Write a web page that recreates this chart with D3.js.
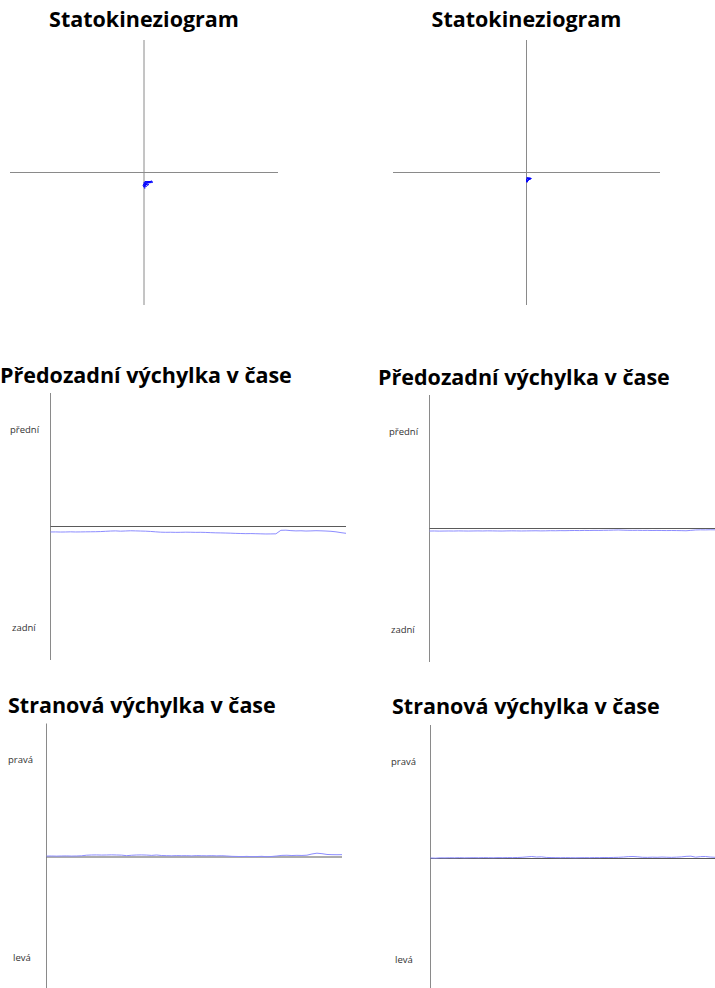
<!DOCTYPE html>
<html lang="cs">
<head>
<meta charset="utf-8">
<title>Stabilometrie</title>
<script src="https://cdn.jsdelivr.net/npm/d3@7"></script>
<style>
  html, body { margin: 0; padding: 0; background: #fff; }
  svg { display: block; }
  .title { font-family: "Open Sans", "Noto Sans", sans-serif; font-weight: 700; fill: #000; }
  .lab { font-family: "Open Sans", "Noto Sans", sans-serif; font-size: 9.5px; fill: #333; }
</style>
</head>
<body>
<svg id="chart" width="715" height="988"></svg>
<script>
// Statokineziogram – COP trajectory (x = stranová, y = předozadní), levá a pravá měření
const copLeftX  = [0.00,0.30,0.90,1.79,2.39,1.49,0.60,0.00,-0.30,0.00,0.30,0.15,0.60,1.19,1.49,0.90,0.30,0.00,-0.15,0.30,1.19,2.09,1.79,0.90,0.30,0.00,0.30,0.60,0.00,0.30,1.49,2.69,2.39,1.19,0.45,0.15,0.60,1.05,0.30,0.00];
const copLeftY  = [-3.63,-2.72,-2.87,-2.72,-2.57,-3.02,-3.17,-3.32,-3.93,-4.53,-4.83,-3.93,-3.63,-3.78,-3.63,-3.47,-3.78,-4.23,-3.63,-3.02,-2.72,-2.87,-3.02,-3.02,-3.32,-3.93,-4.23,-3.63,-3.02,-2.72,-2.72,-2.87,-3.02,-3.17,-3.47,-4.08,-4.38,-3.78,-3.32,-3.63];
const copRightX = [0.00,1.20,1.50,0.90,0.30,0.15,0.00,0.15,0.90,1.35,0.60,0.15,0.00,0.30,1.05,0.75,0.30,0.09,0.24,0.60,1.20,0.45,0.06,0.18,0.45,0.90,0.15];
const copRightY = [-1.51,-1.66,-1.81,-2.11,-2.57,-3.02,-2.42,-1.81,-1.81,-1.87,-2.27,-2.72,-2.11,-1.66,-1.75,-2.05,-2.27,-2.87,-2.42,-1.96,-1.81,-1.81,-1.96,-2.66,-2.36,-1.96,-1.60];

// Předozadní výchylka v čase
const apLeft = [
  -0.82,-0.81,-0.83,-0.82,-0.80,-0.82,-0.81,-0.80,-0.79,-0.78,-0.76,-0.72,
  -0.68,-0.66,-0.70,-0.67,-0.64,-0.66,-0.68,-0.70,-0.74,
  -0.80,-0.85,-0.87,-0.86,-0.88,-0.87,-0.85,-0.86,-0.88,-0.87,-0.89,
  -0.92,-0.95,-0.96,-0.98,-1.00,-1.03,
  -1.05,-1.07,-1.06,-1.08,-1.10,-1.12,-1.11,-1.10,
  -0.57,
  -0.55,-0.62,-0.66,-0.64,-0.68,-0.66,-0.63,-0.65,-0.68,-0.72,
  -0.80,-0.92,-1.02];
const apRight = [
  -0.38,-0.37,-0.39,-0.38,-0.37,-0.38,-0.36,-0.37,-0.38,-0.37,
  -0.36,-0.37,-0.35,-0.36,-0.37,-0.38,-0.36,-0.35,-0.36,-0.37,
  -0.36,-0.35,-0.34,-0.36,-0.35,-0.33,-0.34,-0.32,-0.33,-0.31,
  -0.30,-0.31,-0.29,-0.30,-0.28,-0.29,-0.27,-0.26,-0.24,-0.22,
  -0.25,-0.27,-0.28,-0.27,-0.29,-0.28,-0.30,-0.29,-0.30,-0.31,
  -0.30,-0.31,-0.32,-0.34,-0.28,-0.22,-0.20,-0.21,-0.19,-0.20];

// Stranová výchylka v čase
const mlLeft = [
  0.14,0.15,0.13,0.15,0.16,0.14,0.15,0.18,
  0.27,0.30,0.31,0.29,0.30,0.32,0.30,0.28,
  0.20,
  0.26,0.30,0.31,0.29,0.24,0.30,
  0.22,0.20,0.18,0.21,0.19,0.20,0.17,0.21,0.19,0.18,0.20,0.17,0.19,0.15,
  0.10,0.08,0.06,0.09,0.05,0.07,0.10,0.04,0.08,
  0.15,0.24,0.26,0.22,0.25,0.23,0.27,
  0.45,0.57,0.50,
  0.38,0.35,0.34,0.35];
const mlRight = [
  0.08,0.05,0.10,0.09,0.11,0.10,0.12,0.10,0.11,0.12,
  0.11,0.13,0.12,0.11,0.13,0.12,0.14,0.13,0.15,0.18,
  0.24,0.30,0.22,0.25,0.16,0.14,0.13,0.12,0.13,0.12,
  0.11,0.12,0.13,0.12,0.14,0.13,0.15,0.14,0.16,0.18,
  0.22,0.28,0.30,0.25,0.18,0.17,0.20,0.18,0.22,0.19,
  0.17,0.20,0.24,0.32,0.35,0.20,0.28,0.30,0.22,0.18];

const titleSko = "Statokineziogram";
const titleAp = "Předozadní výchylka v čase";
const titleMl = "Stranová výchylka v čase";
const apLabels = ["přední", "zadní"];
const mlLabels = ["pravá", "levá"];

const svg = d3.select("#chart");
const axisV = "#8a8a8a", axisH = "#5a5a5a", cop = "#0000ff", trace = "#8c8cff";

function title(text, x, y, anchor, size) {
  svg.append("text").attr("class", "title")
    .attr("x", x).attr("y", y).attr("text-anchor", anchor)
    .style("font-size", size + "px").text(text);
}

// ---- statokineziogram ----
function statokinez(cfg, xs, ys) {
  const x = d3.scaleLinear().domain([-40, 40]).range([cfg.x0, cfg.x1]);
  const y = d3.scaleLinear().domain([-40, 40]).range([cfg.y1, cfg.y0]);
  const g = svg.append("g");
  g.append("line").attr("x1", x(0)).attr("x2", x(0)).attr("y1", cfg.y0).attr("y2", cfg.y1)
    .attr("stroke", axisV).attr("stroke-width", 1);
  g.append("line").attr("x1", cfg.x0).attr("x2", cfg.x1).attr("y1", y(0)).attr("y2", y(0))
    .attr("stroke", axisV).attr("stroke-width", 1);
  const line = d3.line().x((d, i) => x(xs[i])).y((d, i) => y(ys[i])).curve(d3.curveLinear);
  g.append("path").datum(xs).attr("d", line)
    .attr("fill", "none").attr("stroke", cop).attr("stroke-width", 0.8);
  title(titleSko, x(0), 27, "middle", 21.5);
}
statokinez({x0: 10, x1: 278, y0: 40, y1: 305}, copLeftX, copLeftY);
statokinez({x0: 393, x1: 660, y0: 40, y1: 305}, copRightX, copRightY);

// ---- časové průběhy ----
function timeSeries(cfg, values, labels) {
  const x = d3.scaleLinear().domain([0, values.length - 1]).range([cfg.x0, cfg.x1]);
  const y = d3.scaleLinear().domain([-20, 20]).range([cfg.cy + 133.5, cfg.cy - 133.5]);
  const g = svg.append("g");
  g.append("line").attr("x1", cfg.x0).attr("x2", cfg.x0)
    .attr("y1", y(20)).attr("y2", y(-20)).attr("stroke", axisV).attr("stroke-width", 1);
  g.append("line").attr("x1", cfg.x0).attr("x2", cfg.xEnd)
    .attr("y1", y(0)).attr("y2", y(0)).attr("stroke", axisH).attr("stroke-width", 1);
  const line = d3.line().x((d, i) => x(i)).y(d => y(d));
  g.append("path").datum(values).attr("d", line)
    .attr("fill", "none").attr("stroke", trace).attr("stroke-width", 1);
  g.append("text").attr("class", "lab").attr("x", cfg.lx).attr("y", y(0) - 94).text(labels[0]);
  g.append("text").attr("class", "lab").attr("x", cfg.lx + cfg.dl).attr("y", y(0) + 104).text(labels[1]);
}

title(titleAp, 0, 383, "start", 21.5);
title(titleAp, 378, 385, "start", 21.5);
timeSeries({x0: 50.5, x1: 346, xEnd: 346, cy: 526.5, lx: 10, dl: 2}, apLeft, apLabels);
timeSeries({x0: 429.5, x1: 715, xEnd: 715, cy: 528.5, lx: 389, dl: 2}, apRight, apLabels);

title(titleMl, 8, 713, "start", 21.5);
title(titleMl, 392, 714, "start", 21.5);
timeSeries({x0: 46.5, x1: 342, xEnd: 342, cy: 857, lx: 8, dl: 5}, mlLeft, mlLabels);
timeSeries({x0: 430.5, x1: 715, xEnd: 715, cy: 858.5, lx: 391, dl: 4}, mlRight, mlLabels);
</script>
</body>
</html>
